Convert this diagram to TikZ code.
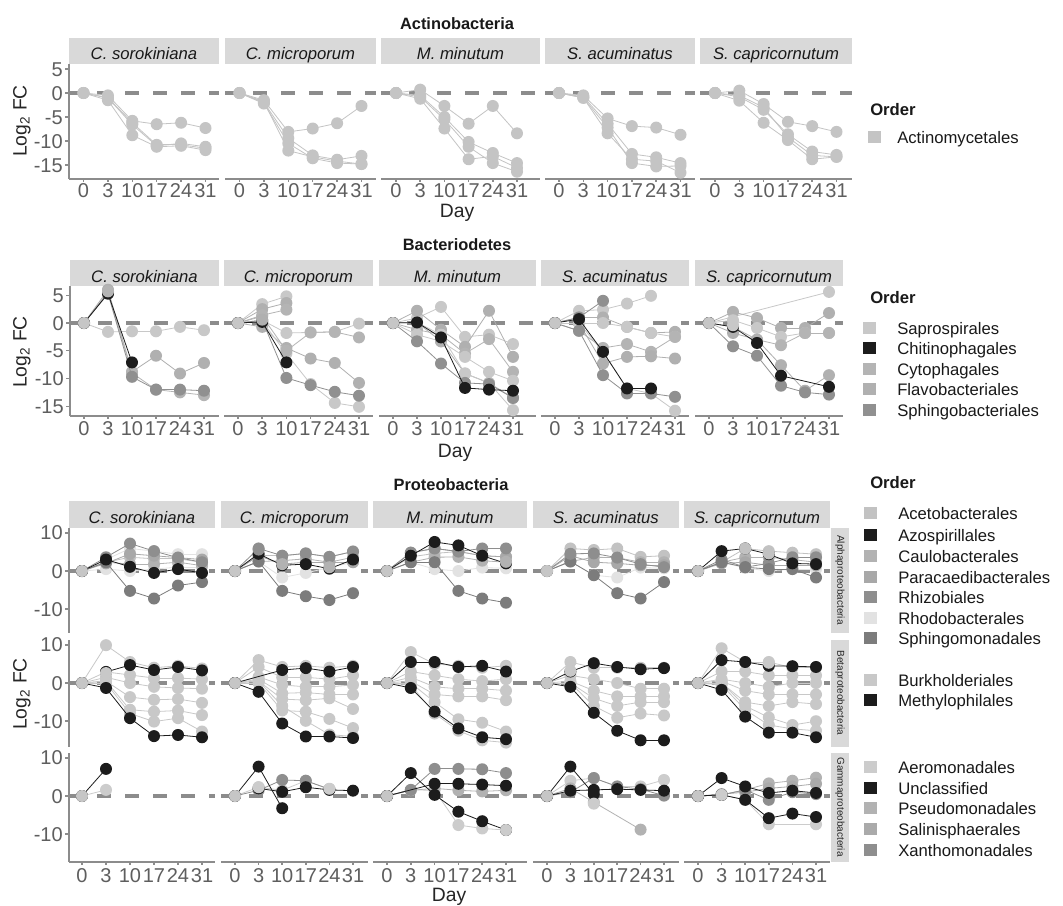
\documentclass[tikz,border=0pt]{standalone}
\usepackage{fontspec}
\setmainfont{Liberation Sans}
\definecolor{tickc}{HTML}{5E5E5E}
\definecolor{axisc}{HTML}{8C8C8C}
\definecolor{zeroc}{HTML}{8C8C8C}
\definecolor{stripc}{HTML}{D9D9D9}
\definecolor{cA}{HTML}{C4C4C4}
\definecolor{cSa}{HTML}{C8C8C8}
\definecolor{cCh}{HTML}{1C1C1C}
\definecolor{cCy}{HTML}{B4B4B4}
\definecolor{cFl}{HTML}{B0B0B0}
\definecolor{cSp}{HTML}{909090}
\definecolor{cAc}{HTML}{C2C2C2}
\definecolor{cAz}{HTML}{1C1C1C}
\definecolor{cCa}{HTML}{B2B2B2}
\definecolor{cPa}{HTML}{A8A8A8}
\definecolor{cRhi}{HTML}{8E8E8E}
\definecolor{cRho}{HTML}{E2E2E2}
\definecolor{cSm}{HTML}{7C7C7C}
\definecolor{cBu}{HTML}{C8C8C8}
\definecolor{cMe}{HTML}{1C1C1C}
\definecolor{cAe}{HTML}{CCCCCC}
\definecolor{cUn}{HTML}{1C1C1C}
\definecolor{cPs}{HTML}{B2B2B2}
\definecolor{cSl}{HTML}{AAAAAA}
\definecolor{cXa}{HTML}{8E8E8E}
\definecolor{cZero}{HTML}{C6C6C6}
\tikzset{
  ticklab/.style={font=\fontsize{15}{15}\selectfont, text=tickc, inner sep=0pt},
  striptxt/.style={font=\fontsize{12.5}{12.5}\selectfont\itshape, text=black!90, inner sep=0pt},
  ptitle/.style={font=\fontsize{12.3}{12.3}\selectfont\bfseries, text=black!90, inner sep=0pt},
  axtitle/.style={font=\fontsize{14.5}{14.5}\selectfont, text=black!85, inner sep=0pt},
  legtitle/.style={font=\fontsize{12.5}{12.5}\selectfont\bfseries, text=black!90, inner sep=0pt},
  legtxt/.style={font=\fontsize{12.5}{12.5}\selectfont, text=black!90, inner sep=0pt},
  rstrip/.style={font=\fontsize{7.5}{7.5}\selectfont, text=black!85, inner sep=0pt, rotate=-90},
  zeroline/.style={draw=zeroc, line width=2.3pt, dash pattern=on 10.5pt off 10.5pt},
  axisline/.style={draw=axisc, line width=1.1pt},
  dline/.style={line width=0.6pt}
}
\newcommand\setpanel[4]{\def\PX{#1}\def\PY{#2}\def\PDX{#3}\def\PSY{#4}}
\newcommand\dataser[2]{%
  \foreach \i/\v [count=\c, remember=\i as \li (initially 1), remember=\v as \lv (initially 0)] in {#2} {%
    \ifnum\c>1 \draw[dline,#1] ({\PX+\PDX*(\li-1)},{\PY-\PSY*(\lv)}) -- ({\PX+\PDX*(\i-1)},{\PY-\PSY*(\v)});\fi
  }%
  \foreach \i/\v in {#2} {\fill[#1] ({\PX+\PDX*(\i-1)},{\PY-\PSY*(\v)}) circle[radius=6];}%
}
\newcommand\dotonly[2]{\foreach \i/\v in {#2} {\fill[#1] ({\PX+\PDX*(\i-1)},{\PY-\PSY*(\v)}) circle[radius=6];}}
\newcommand\zeropt{\fill[cZero] (\PX,\PY) circle[radius=6];}
\newcommand\xticks[2]{% #1 axis y, #2 label baseline y
  \foreach \d [count=\k] in {0,3,10,17,24,31} {%
    \draw[axisline] ({\PX+\PDX*(\k-1)},#1) -- ({\PX+\PDX*(\k-1)},{#1+3});
    \node[ticklab,anchor=base] at ({\PX+\PDX*(\k-1)},#2) {\d};}}
\newcommand\stripbox[5]{\fill[stripc] (#1,#3) rectangle (#2,#4);
  \node[striptxt,anchor=base] at ({(#1+#2)/2},{#3+22}) {#5};}
\newcommand\legkey[5]{\fill[#3] ({#1-6.5},{#2-6}) rectangle ({#1+6.5},{#2+6});
  \node[legtxt,anchor=base west] at (#5,{#2+6}) {#4};}
\begin{document}
\begin{tikzpicture}[x=0.75pt,y=-0.75pt]
\useasboundingbox (0,0) rectangle (1063,906);
\fill[white] (0,0) rectangle (1063,906);

%================ Actinobacteria =================
\node[ptitle,anchor=base] (t1) at (457,30) {Actinobacteria};
\stripbox{69}{219}{38}{64}{C. sorokiniana}
\stripbox{225}{376}{38}{64}{C. microporum}
\stripbox{381}{540}{38}{64}{M. minutum}
\stripbox{545}{695}{38}{64}{S. acuminatus}
\stripbox{700}{852}{38}{64}{S. capricornutum}
\foreach \l/\r in {69/219,225/376,381/540,545/695,700/852}{
  \draw[zeroline] (\l,93) -- (\r,93);
  \draw[axisline] (\l,179) -- (\r,179);}
\draw[axisline] (69,64) -- (69,179);
\foreach \v in {5,0,-5,-10,-15}{
  \draw[axisline] (65,{93-4.8*(\v)}) -- (69,{93-4.8*(\v)});
  \node[ticklab,anchor=base east] at (63,{93-4.8*(\v)+7}) {\v};}
\setpanel{83.5}{93}{24.4}{4.8}\xticks{179}{197}
\dataser{cA}{1/0,2/-0.5,3/-5.8,4/-6.5,5/-6.2,6/-7.3}
\dataser{cA}{1/0,2/-1,3/-6.6,4/-11,5/-10.5,6/-11.2}
\dataser{cA}{1/0,2/-1.5,3/-8.8,4/-11.2,5/-11,6/-11.9}
\dataser{cA}{1/0,2/-1,3/-6.2,4/-10.8,5/-10.8,6/-11.5}
\setpanel{239.5}{93}{24.4}{4.8}\xticks{179}{197}
\dataser{cA}{1/0,2/-1.5,3/-8.1,4/-7.4,5/-6.3,6/-2.7}
\dataser{cA}{1/0,2/-2,3/-9.4,4/-13,5/-13.9,6/-13.1}
\dataser{cA}{1/0,2/-2.2,3/-10.5,4/-13.6,5/-14.6,6/-14.8}
\dataser{cA}{1/0,2/-1.8,3/-12,4/-13.3,5/-14.2,6/-14.8}
\setpanel{396}{93}{24.2}{4.8}\xticks{179}{197}
\dataser{cA}{1/0,2/0.7,3/-2.7,4/-6.4,5/-2.7,6/-8.4}
\dataser{cA}{1/0,2/-0.5,3/-5,4/-10.2,5/-12.5,6/-14.6}
\dataser{cA}{1/0,2/-1.2,3/-7.4,4/-13.8,5/-13.2,6/-15.6}
\dataser{cA}{1/0,2/-0.8,3/-5.5,4/-11.2,5/-14.6,6/-16.4}
\setpanel{559}{93}{24.3}{4.8}\xticks{179}{197}
\dataser{cA}{1/0,2/-0.5,3/-5.3,4/-6.9,5/-7.2,6/-8.7}
\dataser{cA}{1/0,2/-0.8,3/-6.4,4/-12.7,5/-13.4,6/-14.6}
\dataser{cA}{1/0,2/-1,3/-7.2,4/-14.6,5/-15.3,6/-15.2}
\dataser{cA}{1/0,2/-1,3/-8.4,4/-13.8,5/-14.2,6/-16.6}
\setpanel{715}{93}{24.3}{4.8}\xticks{179}{197}
\dataser{cA}{1/0,2/0.5,3/-2.3,4/-6,5/-6.9,6/-8.1}
\dataser{cA}{1/0,2/-0.8,3/-3.5,4/-8.6,5/-12.2,6/-12.9}
\dataser{cA}{1/0,2/-1.6,3/-6.2,4/-9.8,5/-13.8,6/-13.3}
\dataser{cA}{1/0,2/-0.5,3/-3,4/-9.2,5/-13,6/-13.3}
\node[axtitle,anchor=base] (d1) at (457,217) {Day};
\node[axtitle,rotate=90] (y1) at (22,121) {Log\textsubscript{2} FC};
\node[legtitle,anchor=base west] (o1) at (870,115) {Order};
\legkey{874}{137}{cA}{Actinomycetales}{897}

%================ Bacteriodetes =================
\node[ptitle,anchor=base] (t2) at (457,250) {Bacteriodetes};
\stripbox{70}{219}{260}{286}{C. sorokiniana}
\stripbox{224}{373}{260}{286}{C. microporum}
\stripbox{379}{536}{260}{286}{M. minutum}
\stripbox{541}{689}{260}{286}{S. acuminatus}
\stripbox{695}{843}{260}{286}{S. capricornutum}
\foreach \l/\r in {70/219,224/373,379/536,541/689,695/843}{
  \draw[zeroline] (\l,323) -- (\r,323);
  \draw[axisline] (\l,416) -- (\r,416);}
\draw[axisline] (70,286) -- (70,416);
\foreach \v in {5,0,-5,-10,-15}{
  \draw[axisline] (66,{323-5.55*(\v)}) -- (70,{323-5.55*(\v)});
  \node[ticklab,anchor=base east] at (64,{323-5.55*(\v)+7}) {\v};}
\setpanel{84}{323}{24}{5.55}\xticks{416}{435}
\dataser{cSa}{1/0,2/-1.6,3/-1.5,4/-1.5,5/-0.7,6/-1.3}
\dataser{cFl}{1/0,2/6,3/-8.8,4/-5.9,5/-9.1,6/-7.2}
\dataser{cCy}{1/0,2/5.6,3/-9,4/-12,5/-12.5,6/-13}
\dataser{cSp}{1/0,2/5.3,3/-9.7,4/-12,5/-12,6/-12.2}
\dataser{cCh}{1/0,2/5.3,3/-7.1}
\dotonly{cCy}{2/5.7}\zeropt
\setpanel{238}{323}{24.2}{5.55}\xticks{416}{435}
\dataser{cSa}{1/0,2/3.4,3/4.8}
\dataser{cFl}{1/0,2/2.5,3/3.6}
\dataser{cCy}{1/0,2/1.4,3/2.4}
\dataser{cSa}{1/0,2/0.5,3/-1.8,4/-1.7,5/-1.6,6/-0.1}
\dataser{cFl}{1/0,2/-0.7,3/-4.5,4/-6.4,5/-7.2,6/-10.8}
\dataser{cSa}{1/0,2/0.3,3/-5.5,4/-11,5/-14.4,6/-15.1}
\dataser{cCy}{1/0,2/1.2,3/-5,4/-1.7,5/-1.6,6/-2.6}
\dataser{cSp}{1/0,2/0.5,3/-9.9,4/-11.2,5/-12.4,6/-13.1}
\dataser{cCh}{1/0,2/0.2,3/-7.1}
\dotonly{cFl}{2/0.6}\zeropt
\setpanel{393}{323}{24}{5.55}\xticks{416}{435}
\dataser{cSa}{1/0,2/0.9,3/2.9,4/-2.5,5/-2.1,6/-3.8}
\dataser{cFl}{1/0,2/2.2,3/-1.2,4/-4.3,5/2.2,6/-6.1}
\dataser{cCy}{1/0,2/-1.2,3/-2.1,4/-5.5,5/-2.9,6/-8.8}
\dataser{cSa}{1/0,2/-2.1,3/-3.3,4/-6.1,5/-8.8,6/-10.4}
\dataser{cFl}{1/0,2/0.1,3/-3.3,4/-9.1,5/-10.8,6/-13.5}
\dataser{cSa}{1/0,2/0.1,3/-2.1,4/-9.1,5/-10.8,6/-15.7}
\dataser{cSp}{1/0,2/-3.3,3/-7.3,4/-10.8,5/-11,6/-13.5}
\dataser{cCh}{1/0,2/0.1,3/-2.6,4/-11.7,5/-12,6/-12.2}
\zeropt
\setpanel{555}{323}{24}{5.55}\xticks{416}{435}
\dataser{cSa}{1/0,2/2.2,3/2.4,4/3.5,5/4.9}
\dataser{cFl}{1/0,2/1,3/1,4/-0.7,5/-1.8,6/-1.6}
\dataser{cSa}{1/0,2/0,3/0,4/-0.7,5/-1.8,6/-2.5}
\dataser{cCy}{1/0,2/-1.4,3/-4.5,4/-3.8,5/-5.2,6/-2.5}
\dataser{cFl}{1/0,2/0,3/-7.3,4/-6.1,5/-6,6/-6.4}
\dataser{cSa}{1/0,2/0,3/-5.2,4/-11.8,5/-12.7,6/-15.8}
\dataser{cSp}{1/0,2/1,3/4}
\dataser{cSp}{1/0,2/-1.4,3/-9.4,4/-12.7,5/-12.7,6/-13.3}
\dataser{cCh}{1/0,2/0.7,3/-5.2,4/-11.8,5/-11.8}
\zeropt
\setpanel{709}{323}{24}{5.55}\xticks{416}{435}
\dataser{cSa}{1/0,6/5.6}
\dataser{cFl}{1/0,2/2,3/0.9,4/-0.9,5/-0.9,6/1.8}
\dataser{cSa}{1/0,2/0.5,3/-0.9,4/-2.5,5/-1.8,6/-1.8}
\dataser{cCy}{1/0,2/-0.7,3/-3,4/-4,5/-1.8,6/-1.8}
\dataser{cFl}{1/0,2/-1.8,3/-3,4/-7.6,5/-12.2,6/-9.4}
\dataser{cSp}{1/0,2/-4.2,3/-5.9,4/-11.3,5/-12.5,6/-12.9}
\dataser{cCh}{1/0,2/-0.7,3/-3.6,4/-9.5,6/-11.5}
\dotonly{cSa}{2/-0.4}\zeropt
\node[axtitle,anchor=base] (d2) at (455,457) {Day};
\node[axtitle,rotate=90] (y2) at (22,352) {Log\textsubscript{2} FC};
\node[legtitle,anchor=base west] (o2) at (870,303) {Order};
\legkey{869}{328}{cSa}{Saprospirales}{897}
\legkey{869}{348}{cCh}{Chitinophagales}{897}
\legkey{869}{369}{cCy}{Cytophagales}{897}
\legkey{869}{389}{cFl}{Flavobacteriales}{897}
\legkey{869}{410}{cSp}{Sphingobacteriales}{897}

%================ Proteobacteria =================
\node[ptitle,anchor=base] (t3) at (451,490) {Proteobacteria};
\stripbox{69}{215}{501}{528}{C. sorokiniana}
\stripbox{221}{368}{501}{528}{C. microporum}
\stripbox{373}{527}{501}{528}{M. minutum}
\stripbox{533}{679}{501}{528}{S. acuminatus}
\stripbox{684}{830}{501}{528}{S. capricornutum}
\fill[stripc] (831,528) rectangle (849,633);
\fill[stripc] (831,640) rectangle (849,747);
\fill[stripc] (831,753) rectangle (849,862);
\node[rstrip] (ra) at (840,580) {Alphaproteobacteria};
\node[rstrip] (rb) at (840,693) {Betaproteobacteria};
\node[rstrip] (rg) at (840,807) {Gammaproteobacteria};
\foreach \l/\r in {69/215,221/368,373/527,533/679,684/830}{
  \foreach \z in {571,683,796}{\draw[zeroline] (\l,\z) -- (\r,\z);}
  \draw[axisline] (\l,862) -- (\r,862);}
\foreach \t/\b/\z in {528/633/571,640/747/683,753/862/796}{
  \draw[axisline] (69,\t) -- (69,\b);
  \foreach \v in {10,0,-10}{
    \draw[axisline] (65,{\z-3.82*(\v)}) -- (69,{\z-3.82*(\v)});
    \node[ticklab,anchor=base east] at (63,{\z-3.82*(\v)+7}) {\v};}}
% --- Alpha row
\setpanel{82}{571}{24}{3.82}
\dataser{cRho}{1/0,2/3,3/5.9,4/5.2,5/4.4,6/4.4}
\dataser{cRho}{1/0,2/0.5,3/0,4/0.5,5/1,6/1}
\dataser{cAc}{1/0,2/2.3,3/3.6,4/3.2,5/3.2,6/2.3}
\dataser{cCa}{1/0,2/2.3,3/1.8,4/1.8,5/2.3,6/1.4}
\dataser{cPa}{1/0,2/2,3/4.5,4/4,5/3.5,6/3}
\dataser{cRhi}{1/0,2/3.6,3/7.2,4/5.2,5/3.5,6/2.3}
\dataser{cSm}{1/0,2/2.3,3/-5.2,4/-7.2,5/-3.8,6/-2.9}
\dataser{cAz}{1/0,2/3,3/1.1,4/-0.5,5/0.5,6/-0.5}
\zeropt
\setpanel{235}{571}{23.6}{3.82}
\dataser{cRho}{1/0,2/2.5,3/-1.7,4/-0.5,5/0.9,6/2.3}
\dataser{cAc}{1/0,2/4,3/4,4/4.6,5/3.7,6/5.1}
\dataser{cCa}{1/0,2/2.5,3/2.7,4/3.2,5/2.3,6/3.6}
\dataser{cPa}{1/0,2/4,3/1.8,4/2.3,5/2.3,6/2.3}
\dataser{cRhi}{1/0,2/5.9,3/4,4/4.6,5/3.7,6/5.1}
\dataser{cSm}{1/0,2/2.5,3/-5.2,4/-6.6,5/-7.6,6/-5.8}
\dataser{cAz}{1/0,2/4.5,3/1.5,4/1.8,5/0.6,6/3}
\dotonly{cRhi}{2/5.6}\dotonly{cCa}{3/1.8,5/1}\zeropt
\setpanel{387}{571}{23.8}{3.82}
\dataser{cRho}{1/0,2/2.3,3/0.5,4/0,5/0.9,6/0.7}
\dataser{cAc}{1/0,2/3.7,3/4.6,4/5.1,5/4,6/3.7}
\dataser{cCa}{1/0,2/2.3,3/3.6,4/3.7,5/2.7,6/2.3}
\dataser{cPa}{1/0,2/4.8,3/5.9,4/5.1,5/4,6/3.7}
\dataser{cRhi}{1/0,2/4.8,3/5.9,4/5.1,5/5.9,6/5.9}
\dataser{cSm}{1/0,2/2.3,3/2.3,4/-5.2,5/-7.2,6/-8.3}
\dataser{cAz}{1/0,2/4,3/7.6,4/6.7,5/4,6/2}
\dotonly{cCa}{6/2.4}\zeropt
\setpanel{547}{571}{23.4}{3.82}
\dataser{cRho}{1/0,2/2.5,3/-1.1,4/-1.7,5/0.9,6/0.7}
\dataser{cAc}{1/0,2/5.9,3/5.5,4/5.9,5/3.7,6/4}
\dataser{cCa}{1/0,2/2.5,3/3.6,4/3.5,5/2.3,6/2.3}
\dataser{cPa}{1/0,2/4,3/2.3,4/2,5/1.5,6/1.5}
\dataser{cSm}{1/0,2/2.5,3/-1.1,4/-5.8,5/-7.2,6/-2.9}
\dataser{cRhi}{1/0,2/4.5,3/4.6,4/3.5,5/1.8,6/1}
\zeropt
\setpanel{698}{571}{23.6}{3.82}
\dataser{cRho}{1/0,2/2.3,3/0.8,4/0,5/0.5,6/0.5}
\dataser{cAc}{1/0,2/2.3,3/5.9,4/5.2,5/4.8,6/4.4}
\dataser{cCa}{1/0,2/2.3,3/3.6,4/3.6,5/3,6/2.3}
\dataser{cPa}{1/0,2/2,3/2.3,4/1.5,5/1.5,6/1.5}
\dataser{cRhi}{1/0,2/3,3/1,4/2,5/3.6,6/3.6}
\dataser{cSm}{1/0,2/2.3,3/1,4/0.5,5/0.5,6/-1.7}
\dataser{cAz}{1/0,2/5.2,3/5.9,4/4.4,5/2,6/1.8}
\dotonly{cAc}{3/5.9,4/4.6}\zeropt
% --- Beta row
\setpanel{82}{683}{24}{3.82}
\dataser{cBu}{1/0,2/9.9,3/5.5,4/4,5/4.5,6/3.8}
\dataser{cBu}{1/0,2/2.9,3/2.1,4/1.3,5/1.3,6/1}
\dataser{cBu}{1/0,2/1.5,3/0,4/-1,5/-1.3,6/-1.5}
\dataser{cBu}{1/0,2/0.5,3/-3.7,4/-4.4,5/-4.2,6/-5.2}
\dataser{cBu}{1/0,2/0.5,3/-7,4/-7.5,5/-7.2,6/-8.4}
\dataser{cBu}{1/0,2/0,3/-8,4/-10.1,5/-9.2,6/-12.7}
\dataser{cMe}{2/2.9,3/4.7,4/3.4,5/4.2,6/3.3}
\dataser{cMe}{1/0,2/-1.3,3/-9.2,4/-13.9,5/-13.6,6/-14.2}
\dotonly{cBu}{2/2.6}\zeropt
\setpanel{235}{683}{23.6}{3.82}
\dataser{cBu}{1/0,2/6,3/4.2,4/4.5,5/4,6/4.5}
\dataser{cBu}{1/0,2/4.2,3/1.5,4/1.5,5/1,6/2}
\dataser{cBu}{1/0,2/1.6,3/-0.5,4/-1,5/-1,6/-0.5}
\dataser{cBu}{1/0,2/1,3/-2.7,4/-2.5,5/-3,6/-3}
\dataser{cBu}{1/0,2/0.5,3/-4.2,4/-4.5,5/-4,6/-6.8}
\dataser{cBu}{1/0,2/0,3/-7.2,4/-7.5,5/-9.4,6/-11.8}
\dataser{cBu}{1/0,2/0.5,3/-6,4/-9.9,5/-13.5,6/-14}
\dataser{cMe}{1/0,3/3.4,4/3.9,5/3,6/4.2}
\dataser{cMe}{1/0,2/-2.3,3/-10.6,4/-14,5/-14,6/-14.4}
\zeropt
\setpanel{387}{683}{23.8}{3.82}
\dataser{cBu}{1/0,2/8.1,3/5,4/4.5,5/4,6/4.5}
\dataser{cBu}{1/0,2/3,3/2,4/1,5/0.5,6/1}
\dataser{cBu}{1/0,2/1.5,3/-1,4/-1.5,5/-1.5,6/-2}
\dataser{cBu}{1/0,2/0.5,3/-3,4/-3.5,5/-3.5,6/-4.5}
\dataser{cBu}{1/0,2/0,3/-5,4/-9.5,5/-10.4,6/-12.7}
\dataser{cBu}{1/0,2/-0.5,3/-8,4/-12.5,5/-15,6/-15.6}
\dataser{cMe}{1/0,2/5.5,3/5.5,4/4.2,5/4.5,6/3}
\dataser{cMe}{1/0,2/-1.3,3/-7.5,4/-11.9,5/-14.2,6/-14.7}
\zeropt
\setpanel{547}{683}{23.4}{3.82}
\dataser{cBu}{1/0,2/5.5,3/4,4/4,5/4,6/4}
\dataser{cBu}{1/0,2/2,3/1,4/0,5/-1.5,6/-1.5}
\dataser{cBu}{1/0,2/0.5,3/-2,4/-3.5,5/-3.5,6/-3.5}
\dataser{cBu}{1/0,2/0,3/-4,4/-6,5/-5,6/-5}
\dataser{cBu}{1/0,2/0,3/-6,4/-9.1,5/-8,6/-8.5}
\dataser{cMe}{1/0,2/3,3/5.2,4/4.2,5/3.6,6/3.9}
\dataser{cMe}{1/0,2/-1,3/-7.8,4/-12.5,5/-15,6/-15}
\dotonly{cBu}{2/3.2}\zeropt
\setpanel{698}{683}{23.6}{3.82}
\dataser{cBu}{1/0,2/9.1,3/5.5,4/5.5,5/4,6/4}
\dataser{cBu}{1/0,2/3,3/3,4/2,5/2,6/2}
\dataser{cBu}{1/0,2/1,3/0,4/-1,5/0,6/0}
\dataser{cBu}{1/0,2/0.5,3/-2,4/-3,5/-3,6/-3}
\dataser{cBu}{1/0,2/0,3/-5,4/-6,5/-5,6/-5.5}
\dataser{cBu}{1/0,2/0,3/-6,4/-9,5/-11,6/-10}
\dataser{cBu}{1/0,2/-0.5,3/-7,4/-11,5/-12,6/-12.5}
\dataser{cMe}{1/0,2/6,3/5.5,4/4.5,5/4.4,6/4.2}
\dataser{cMe}{1/0,2/-1.8,3/-8.8,4/-13,5/-13,6/-14.2}
\dotonly{cBu}{4/5.3}\zeropt
% --- Gamma row
\setpanel{82}{796}{24}{3.82}\xticks{862}{882}
\dataser{cAe}{1/0,2/1.6}
\dataser{cUn}{1/0,2/7.1}
\zeropt
\setpanel{235}{796}{23.6}{3.82}\xticks{862}{882}
\dataser{cAe}{1/0,2/2.3,3/1.5,4/4,5/1.8}
\dataser{cXa}{1/0,2/1.5,3/4.2,4/4,5/1.8}
\dataser{cUn}{1/0,2/7.7,3/-3.2}
\dataser{cUn}{2/2,3/1.1,4/2.3,5/1.6,6/1.4}
\dotonly{cAe}{2/2.3,5/1.9}\zeropt
\setpanel{387}{796}{23.8}{3.82}\xticks{862}{882}
\dataser{cAe}{1/0,2/1.6,3/1.5,4/-7.6,5/-8.5,6/-8.9}
\dataser{cPs}{1/0,2/1.5,3/2,4/1.5,5/1.2,6/1.5}
\dataser{cXa}{1/0,2/1.6,3/7.1,4/7.1,5/7,6/6}
\dataser{cUn}{1/0,2/6,3/0.3,4/-4.1,5/-6.6,6/-8.9}
\dataser{cUn}{1/0,3/3.2,4/3.2,5/3,6/2.7}
\dotonly{cAe}{6/-8.9}\zeropt
\setpanel{547}{796}{23.4}{3.82}\xticks{862}{882}
\dataser{cAe}{1/0,2/4,3/4.7,4/2.5,5/2.5,6/4.2}
\dataser{cPs}{1/0,2/2,3/-1.6,5/-8.8}
\dataser{cXa}{1/0,2/1,3/4.7,4/2.5,5/1.8,6/0.1}
\dataser{cUn}{1/0,2/7.7,3/0.5}
\dataser{cUn}{1/0,2/1.4,3/1.6,4/1.8,5/1.6,6/1.4}
\dotonly{cAe}{3/-2}\zeropt
\setpanel{698}{796}{23.6}{3.82}\xticks{862}{882}
\dataser{cAe}{1/0,2/0.3,3/-1,4/-7.4,6/-7.4}
\dataser{cPs}{1/0,2/0.3,3/1.6,4/3.3,5/4,6/4.8}
\dataser{cSl}{1/0,2/0.5,3/1,4/2,5/2.5,6/3.2}
\dataser{cXa}{1/0,2/0.3,3/1.6,4/-1,5/1,6/0.5}
\dataser{cUn}{1/0,2/4.7,3/2.5,4/0.8,5/1.4,6/0.8}
\dataser{cUn}{1/0,2/0.3,3/-1,4/-5.8,5/-4.6,6/-5.5}
\dotonly{cAe}{2/0.3}\zeropt
\node[axtitle,anchor=base] (d3) at (449,901) {Day};
\node[axtitle,rotate=90] (y3) at (22,694) {Log\textsubscript{2} FC};
\node[legtitle,anchor=base west] (o3) at (870,488) {Order};
\legkey{870}{513}{cAc}{Acetobacterales}{898}
\legkey{870}{535}{cAz}{Azospirillales}{898}
\legkey{870}{556}{cCa}{Caulobacterales}{898}
\legkey{870}{577}{cPa}{Paracaedibacterales}{898}
\legkey{870}{597}{cRhi}{Rhizobiales}{898}
\legkey{870}{618}{cRho}{Rhodobacterales}{898}
\legkey{870}{638}{cSm}{Sphingomonadales}{898}
\legkey{870}{680}{cBu}{Burkholderiales}{898}
\legkey{870}{700}{cMe}{Methylophilales}{898}
\legkey{870}{767}{cAe}{Aeromonadales}{898}
\legkey{870}{788}{cUn}{Unclassified}{898}
\legkey{870}{808}{cPs}{Pseudomonadales}{898}
\legkey{870}{829}{cSl}{Salinisphaerales}{898}
\legkey{870}{850}{cXa}{Xanthomonadales}{898}
\end{tikzpicture}
\end{document}
